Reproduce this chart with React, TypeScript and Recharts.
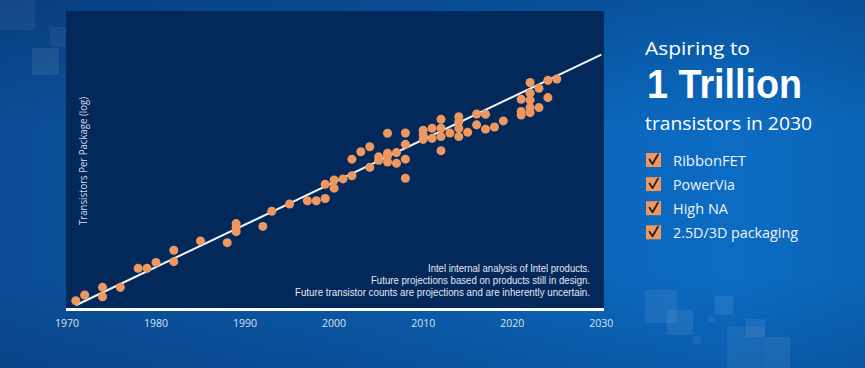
import { ScatterChart, Scatter, XAxis, YAxis, ZAxis, ReferenceLine } from 'recharts';

// release year of each product (x) and transistors per package (y, log scale)
const YEARS = [
  1971, 1972, 1974, 1974, 1976, 1978, 1979, 1980, 1982, 1982,
  1985, 1988, 1989, 1989, 1989, 1992, 1993, 1995, 1997, 1998,
  1999, 1999, 2000, 2000, 2001, 2002, 2002, 2003, 2004, 2004,
  2005, 2005, 2006, 2006, 2006, 2006, 2007, 2007, 2008, 2008,
  2008, 2008, 2010, 2010, 2010, 2011, 2011, 2012, 2012, 2012,
  2012, 2013, 2014, 2014, 2014, 2014, 2015, 2016, 2016, 2017,
  2017, 2018, 2019, 2021, 2021, 2021, 2022, 2022, 2022, 2022,
  2022, 2023, 2023, 2024, 2024, 2025,
];
const TRANSISTORS = [
  3.3e3, 5.2e3, 9.5e3, 4.5e3, 9.5e3, 4.3e4, 4.3e4, 6.9e4, 1.8e5, 7.3e4,
  3.8e5, 3.3e5, 1.5e6, 1.1e6, 7.9e5, 1.2e6, 4.0e6, 7.1e6, 9.2e6, 9.2e6,
  1.1e7, 3.4e7, 4.8e7, 2.5e7, 5.2e7, 6.7e7, 2.5e8, 4.5e8, 6.7e8, 1.3e8,
  3.0e8, 2.3e8, 4.0e8, 3.2e8, 2.0e8, 1.95e9, 4.2e8, 1.8e8, 2.0e9, 8.1e8,
  2.5e8, 5.5e7, 2.5e9, 1.7e9, 1.2e9, 2.9e9, 1.3e9, 5.9e9, 2.9e9, 1.5e9,
  4.9e8, 2.0e9, 7.3e9, 4.9e9, 2.9e9, 1.5e9, 2.1e9, 9.0e9, 3.8e9, 8.8e9,
  2.7e9, 3.2e9, 5.2e9, 2.9e10, 1.1e10, 8.3e9, 1.1e11, 4.7e10, 2.7e10, 1.5e10,
  1.0e10, 6.9e10, 1.5e10, 1.3e11, 3.3e10, 1.45e11,
];
const TREND_YEARS = [1971, 2030];
const TREND_COUNTS = [2300, 1e12];
const TICK_YEARS = [1970, 1980, 1990, 2000, 2010, 2020, 2030];
const Y_LABEL = 'Transistors Per Package (log)';
const NOTES = [
  'Intel internal analysis of Intel products.',
  'Future projections based on products still in design.',
  'Future transistor counts are projections and are inherently uncertain.',
];
const CHECKLIST = ['RibbonFET', 'PowerVia', 'High NA', '2.5D/3D packaging'];

// layout (px)
const NOTE_WIDTHS = [162, 219, 295];
const CHECK_WIDTHS = [73, 62, 55, 125];
const SQUARES = [
  [0, 0, 35, 30, 0.05], [50, 27, 16, 20, 0.05], [32, 48, 27, 27, 0.08],
  [645, 290, 32, 33, 0.07], [667, 310, 26, 25, 0.08], [715, 296, 18, 19, 0.08],
  [708, 316, 7, 6, 0.06], [693, 336, 8, 8, 0.06], [727, 327, 38, 41, 0.06],
  [746, 319, 19, 18, 0.07], [765, 337, 25, 31, 0.07],
];

const points = YEARS.map((year, i) => ({ year, count: TRANSISTORS[i] }));

const ORANGE = '#ef9760';
const NAVY = '#03285a';

export default function App() {
  return (
    <div
      style={{
        position: 'absolute',
        left: 0,
        top: 0,
        width: 865,
        height: 368,
        overflow: 'hidden',
        background:
          'linear-gradient(180deg, rgba(0,25,70,0.28) 0%, rgba(0,0,0,0) 35%, rgba(0,0,0,0) 75%, rgba(0,25,70,0.18) 100%), linear-gradient(90deg, #0b4d95 0%, #0b5aa9 40%, #0b66bb 68%, #0c6cc3 85%, #0a64b6 100%)',
      }}
    >
      {SQUARES.map(([x, y, w, h, o], i) => (
        <div
          key={i}
          style={{ position: 'absolute', left: x, top: y, width: w, height: h, background: `rgba(255,255,255,${o})` }}
        />
      ))}
      <div style={{ position: 'absolute', left: 66, top: 11, width: 538, height: 298, background: NAVY }} />

      <div style={{ position: 'absolute', left: 0, top: 0 }}>
        <ScatterChart width={865} height={368} margin={{ top: 11, left: 66, right: 261, bottom: 28.5 }}>
          <XAxis
            dataKey="year"
            type="number"
            domain={[1969.9, 2030.3]}
            ticks={TICK_YEARS}
            allowDataOverflow
            height={30}
            tickLine={false}
            tickMargin={4}
            axisLine={{ stroke: '#ffffff', strokeWidth: 3 }}
            tick={{ fill: '#d9e2ef', fontSize: 10.5, fontFamily: 'Open Sans' }}
          />
          <YAxis dataKey="count" type="number" scale="log" domain={[1640, 3.2e13]} allowDataOverflow hide />
          <ZAxis range={[32, 32]} />
          <ReferenceLine
            segment={[
              { x: TREND_YEARS[0], y: TREND_COUNTS[0] },
              { x: TREND_YEARS[1], y: TREND_COUNTS[1] },
            ]}
            stroke="#f2f5fa"
            strokeWidth={2}
          />
          <Scatter data={points} fill={ORANGE} isAnimationActive={false} />
        </ScatterChart>
      </div>

      <svg width={865} height={368} style={{ position: 'absolute', left: 0, top: 0, pointerEvents: 'none' }}>
        <text
          transform="translate(86.5,161) rotate(-90)"
          textAnchor="middle"
          fontFamily="Open Sans"
          fontSize={10}
          fill="#d3dbe8"
          textLength={128}
          lengthAdjust="spacingAndGlyphs"
        >
          {Y_LABEL}
        </text>
        {NOTES.map((t, i) => (
          <text
            key={t}
            x={590}
            y={271.5 + i * 12.2}
            textAnchor="end"
            fontFamily="Liberation Sans"
            fontSize={10}
            fill="#e3e9f2"
            textLength={NOTE_WIDTHS[i]}
            lengthAdjust="spacingAndGlyphs"
          >
            {t}
          </text>
        ))}

        <text x={645} y={54.5} fontFamily="Open Sans" fontSize={19} fill="#ffffff" textLength={105} lengthAdjust="spacingAndGlyphs">
          Aspiring to
        </text>
        <text x={647} y={98.3} fontFamily="Liberation Sans" fontWeight={700} fontSize={40} fill="#ffffff" textLength={155} lengthAdjust="spacingAndGlyphs">
          1 Trillion
        </text>
        <text x={645} y={130} fontFamily="Open Sans" fontSize={18} fill="#ffffff" textLength={167} lengthAdjust="spacingAndGlyphs">
          transistors in 2030
        </text>

        {CHECKLIST.map((t, i) => {
          const cy = 160 + i * 24.1;
          return (
            <g key={t}>
              <rect x={646} y={cy - 7} width={15} height={14} fill={ORANGE} />
              <path
                d={`M ${649.5} ${cy - 0.5} L ${652.5} ${cy + 4} L ${658} ${cy - 5.5}`}
                stroke="#2a1c1a"
                strokeWidth={1.8}
                fill="none"
                strokeLinecap="round"
                strokeLinejoin="round"
              />
              <text
                x={673}
                y={cy + 5.6}
                fontFamily="Open Sans"
                fontSize={14.5}
                fill="#eef3fa"
                textLength={CHECK_WIDTHS[i]}
                lengthAdjust="spacingAndGlyphs"
              >
                {t}
              </text>
            </g>
          );
        })}
      </svg>
    </div>
  );
}
